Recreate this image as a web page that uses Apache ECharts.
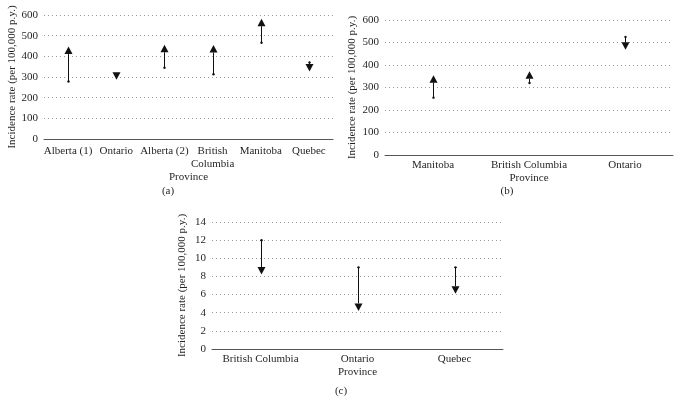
<!DOCTYPE html>
<html>
<head>
<meta charset="utf-8">
<script src="https://cdn.jsdelivr.net/npm/echarts@6/dist/echarts.min.js"></script>
<style>
html,body{margin:0;padding:0;background:#fff;}
#chart{width:681px;height:414px;}
</style>
</head>
<body>
<div id="chart"></div>
<script>
// Panel (a)
const catsA = ['Alberta (1)', 'Ontario', 'Alberta (2)', 'British Columbia', 'Manitoba', 'Quebec'];
const startA = [278, 308, 345, 313, 466, 370];
const endA = [447, 287, 456, 455, 582, 327];
// Panel (b)
const catsB = ['Manitoba', 'British Columbia', 'Ontario'];
const startB = [255, 320, 525];
const endB = [355, 372, 468];
// Panel (c)
const catsC = ['British Columbia', 'Ontario', 'Quebec'];
const startC = [12, 9, 9];
const endC = [8.2, 4.2, 6.1];

const yTitle = 'Incidence rate (per 100,000 p.y.)';
const xTitle = 'Province';
const panelLabels = ['(a)', '(b)', '(c)'];

const FONT = 'Liberation Serif';
const TXT = '#231f20';

function rows(starts, ends) {
  return starts.map((s, i) => [i, s, ends[i]]);
}

function renderArrow(params, api) {
  const idx = api.value(0), s = api.value(1), e = api.value(2);
  const p0 = api.coord([idx, s]);
  const p1 = api.coord([idx, e]);
  const sign = e > s ? 1 : -1;
  const headL = 7.5, hw = 4;
  const x = Math.round(p0[0]) + 0.5;
  const base = p1[1] + sign * headL;
  const children = [];
  const len = Math.abs(p0[1] - p1[1]);
  if (len > headL) {
    children.push({ type: 'line', shape: { x1: x, y1: p0[1], x2: x, y2: base },
      style: { stroke: '#111', lineWidth: 1 } });
  }
  children.push({ type: 'circle', shape: { cx: x, cy: p0[1], r: 1.2 }, style: { fill: '#111' } });
  children.push({ type: 'polygon', shape: { points: [[x, p1[1]], [x - hw, base], [x + hw, base]] },
    style: { fill: '#111' } });
  return { type: 'group', children };
}

function xAxisFor(gi, cats, margin, nameGap, fmt) {
  return {
    type: 'category', gridIndex: gi, data: cats,
    axisLine: { lineStyle: { color: '#555', width: 1 } },
    axisTick: { show: false },
    axisLabel: { interval: 0, fontFamily: FONT, fontSize: 11, color: TXT, margin: margin, lineHeight: 13,
      formatter: fmt || (v => v) },
    name: xTitle, nameLocation: 'middle', nameGap: nameGap,
    nameTextStyle: { fontFamily: FONT, fontSize: 11, color: TXT }
  };
}

function yAxisFor(gi, max, interval, nameGap) {
  return {
    type: 'value', gridIndex: gi, min: 0, max: max, interval: interval,
    axisLine: { show: false }, axisTick: { show: false },
    axisLabel: { fontFamily: FONT, fontSize: 11, color: TXT, margin: 6 },
    splitLine: { show: true, lineStyle: { color: '#9a9a9a', type: [1, 3], width: 1 } },
    name: yTitle, nameLocation: 'middle', nameRotate: 90, nameGap: nameGap,
    nameTextStyle: { fontFamily: FONT, fontSize: 11, color: TXT }
  };
}

const chart = echarts.init(document.getElementById('chart'), null, { renderer: 'canvas' });
chart.setOption({
  animation: false,
  backgroundColor: '#fff',
  textStyle: { fontFamily: FONT },
  title: [
    { text: panelLabels[0], left: 168, top: 186, textAlign: 'center',
      textStyle: { fontFamily: FONT, fontSize: 11, fontWeight: 'normal', color: TXT }, padding: 0 },
    { text: panelLabels[1], left: 507, top: 186, textAlign: 'center',
      textStyle: { fontFamily: FONT, fontSize: 11, fontWeight: 'normal', color: TXT }, padding: 0 },
    { text: panelLabels[2], left: 341, top: 386, textAlign: 'center',
      textStyle: { fontFamily: FONT, fontSize: 11, fontWeight: 'normal', color: TXT }, padding: 0 }
  ],
  grid: [
    { left: 44, top: 15, width: 289, height: 124 },
    { left: 385, top: 20, width: 288, height: 135 },
    { left: 212, top: 222, width: 291, height: 127 }
  ],
  xAxis: [
    xAxisFor(0, catsA, 6, 32, v => v === 'British Columbia' ? 'British\nColumbia' : v),
    xAxisFor(1, catsB, 4, 15),
    xAxisFor(2, catsC, 4, 15)
  ],
  yAxis: [
    yAxisFor(0, 600, 100, 26),
    yAxisFor(1, 600, 100, 27),
    yAxisFor(2, 14, 2, 24)
  ],
  series: [
    { type: 'custom', xAxisIndex: 0, yAxisIndex: 0, data: rows(startA, endA),
      encode: { x: 0, y: [1, 2] }, renderItem: renderArrow },
    { type: 'custom', xAxisIndex: 1, yAxisIndex: 1, data: rows(startB, endB),
      encode: { x: 0, y: [1, 2] }, renderItem: renderArrow },
    { type: 'custom', xAxisIndex: 2, yAxisIndex: 2, data: rows(startC, endC),
      encode: { x: 0, y: [1, 2] }, renderItem: renderArrow }
  ]
});
</script>
</body>
</html>
